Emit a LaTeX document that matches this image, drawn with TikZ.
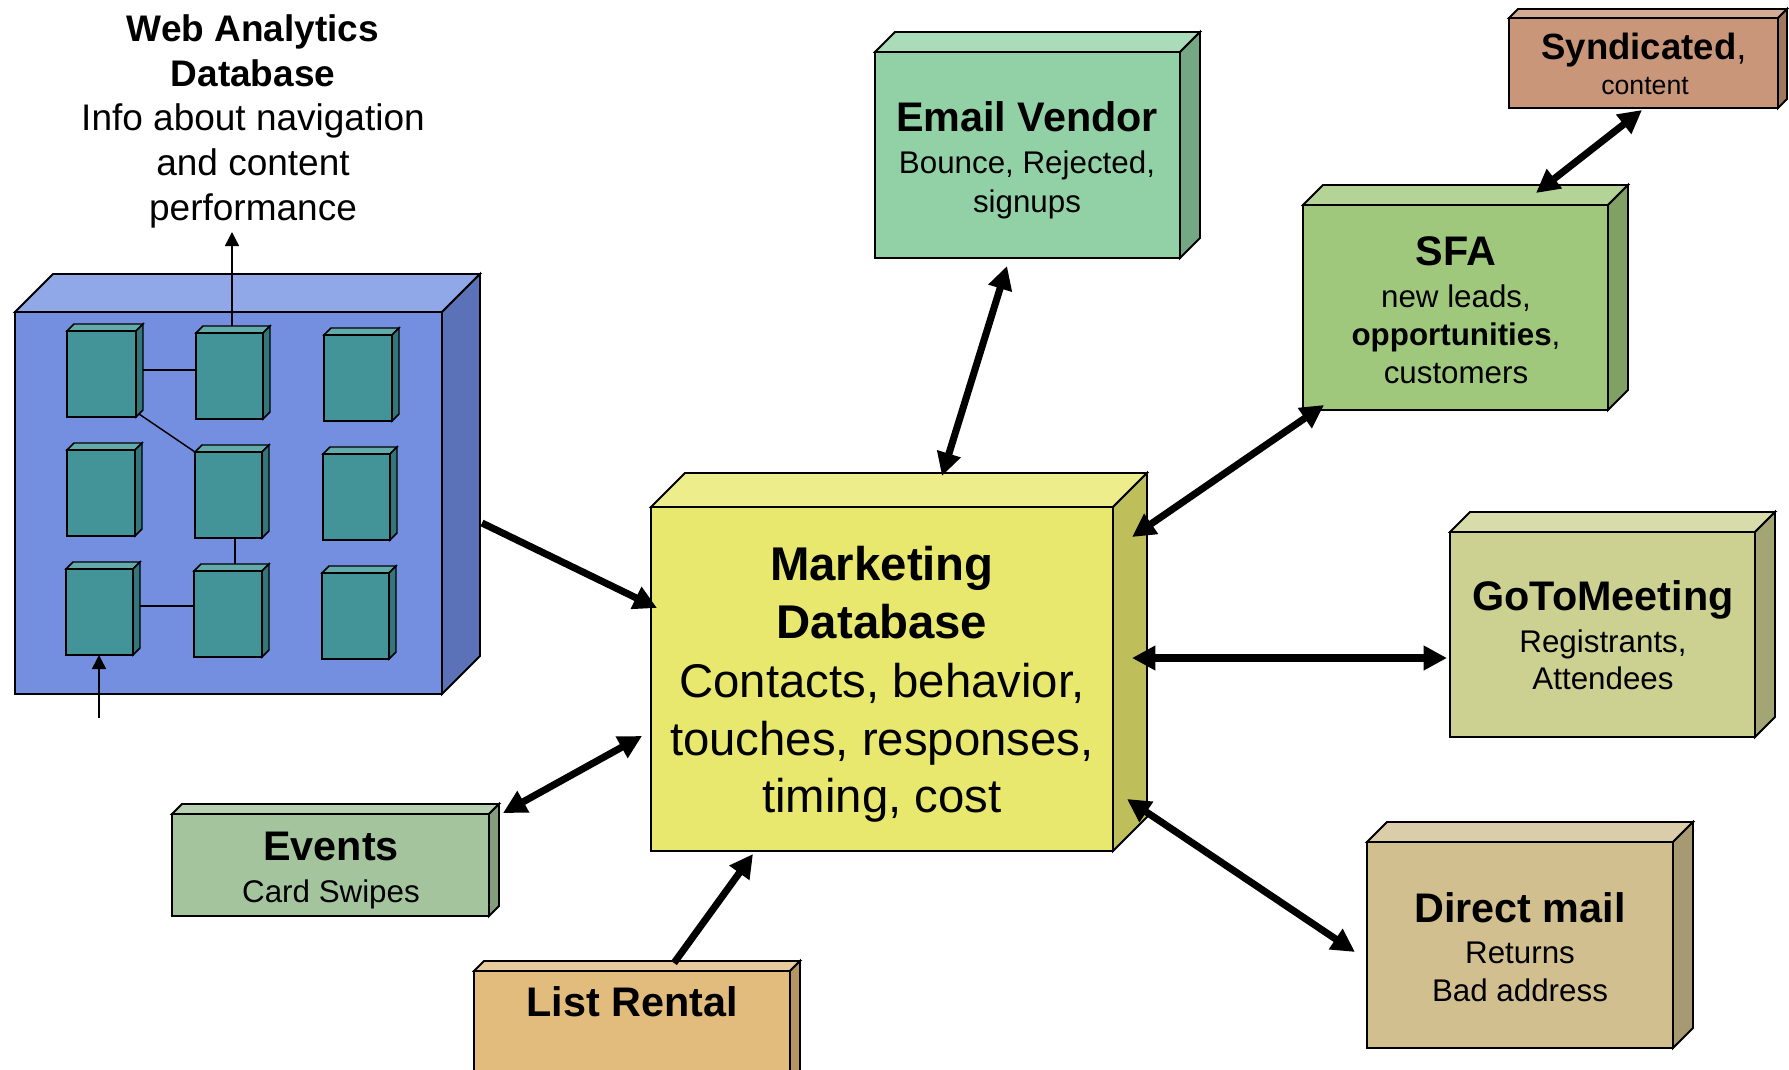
\documentclass[tikz,border=0pt]{standalone}
\usepackage{fontspec}
\setmainfont{Liberation Sans}
\usetikzlibrary{arrows.meta}

% face colours: F = front, T = top, S = side
\definecolor{webF}{RGB}{116,143,224}
\definecolor{webT}{RGB}{145,168,232}
\definecolor{webS}{RGB}{92,114,184}
\definecolor{tealF}{RGB}{66,148,152}
\definecolor{tealT}{RGB}{99,170,171}
\definecolor{tealS}{RGB}{52,118,121}
\definecolor{mktF}{RGB}{232,232,110}
\definecolor{mktT}{RGB}{237,237,140}
\definecolor{mktS}{RGB}{190,190,90}
\definecolor{mailF}{RGB}{145,209,165}
\definecolor{mailT}{RGB}{170,220,185}
\definecolor{mailS}{RGB}{116,167,132}
\definecolor{syndF}{RGB}{201,150,122}
\definecolor{syndT}{RGB}{212,172,150}
\definecolor{syndS}{RGB}{160,120,98}
\definecolor{sfaF}{RGB}{160,200,125}
\definecolor{sfaT}{RGB}{179,211,151}
\definecolor{sfaS}{RGB}{128,160,100}
\definecolor{gotoF}{RGB}{204,208,145}
\definecolor{gotoT}{RGB}{216,219,170}
\definecolor{gotoS}{RGB}{163,166,116}
\definecolor{dmF}{RGB}{209,191,143}
\definecolor{dmT}{RGB}{218,205,170}
\definecolor{dmS}{RGB}{167,153,114}
\definecolor{evF}{RGB}{164,196,158}
\definecolor{evT}{RGB}{182,208,177}
\definecolor{evS}{RGB}{131,157,126}
\definecolor{lrF}{RGB}{225,188,125}
\definecolor{lrT}{RGB}{231,203,156}
\definecolor{lrS}{RGB}{180,150,100}

\newcommand\fsz[2]{\fontsize{#1}{#2}\selectfont}

% #1 name, #2 x1, #3 y1, #4 x2, #5 y2 (front face), #6 depth, #7 colour prefix, #8 line style
\newcommand\cuboid[8]{%
  \filldraw[#8, fill=#7T] (#2,#3) -- (#2+#6,#3-#6) -- (#4+#6,#3-#6) -- (#4,#3) -- cycle;
  \filldraw[#8, fill=#7S] (#4,#3) -- (#4+#6,#3-#6) -- (#4+#6,#5-#6) -- (#4,#5) -- cycle;
  \pgfmathsetmacro\cbw{(#4-#2)*0.75}%
  \pgfmathsetmacro\cbh{(#5-#3)*0.75}%
  \node[#8, fill=#7F, minimum width=\cbw pt, minimum height=\cbh pt,
        anchor=north west, inner sep=0pt, outer sep=0pt] (#1) at (#2,#3) {};
}

\tikzset{
  boxline/.style={draw=black, line width=1.4pt, line join=miter},
  cubeline/.style={draw=black, line width=1.1pt, line join=miter},
  txt/.style={anchor=base, inner sep=0pt, outer sep=0pt, text=black},
  bigarrow/.style={draw=black, line width=5.3pt},
  twoway/.style={bigarrow, {Triangle[length=17.5pt,width=17.5pt]}-{Triangle[length=17.5pt,width=17.5pt]}},
  oneway/.style={bigarrow, -{Triangle[length=17.5pt,width=17.5pt]}},
  thinarrow/.style={draw=black, line width=1.1pt, -{Triangle[length=10.5pt,width=10.5pt]}},
  link/.style={draw=black, line width=1.1pt},
  titlef/.style={font=\fsz{31pt}{36pt}\bfseries},
  subf/.style={font=\fsz{23.5pt}{28pt}},
}

\begin{document}
\begin{tikzpicture}[x=0.75pt, y=-0.75pt]
\useasboundingbox (0,0) rectangle (1789,1070);

% ---- web analytics database with its server blocks ----
\cuboid{web}{15}{312}{442}{694}{38}{web}{boxline}
\cuboid{s1}{67}{331}{136}{417}{7}{teal}{cubeline}
\cuboid{s2}{196}{333}{263}{419}{7}{teal}{cubeline}
\cuboid{s3}{324}{335}{392}{421}{7}{teal}{cubeline}
\cuboid{s4}{67}{450}{135}{536}{7}{teal}{cubeline}
\cuboid{s5}{195}{452}{262}{538}{7}{teal}{cubeline}
\cuboid{s6}{323}{454}{390}{540}{7}{teal}{cubeline}
\cuboid{s7}{66}{569}{133}{655}{7}{teal}{cubeline}
\cuboid{s8}{194}{571}{262}{657}{7}{teal}{cubeline}
\cuboid{s9}{322}{573}{389}{659}{7}{teal}{cubeline}

\coordinate (s1e) at (143,370);
\coordinate (s1c) at (139,414);
\coordinate (s7e) at (140,606);
\coordinate (s5b) at (235,538);
\coordinate (s8t) at (235,564);
\coordinate (s2t) at (232,326);
\coordinate (webout) at (232,232);
\coordinate (webin) at (99,718);
\draw[link] (s1e) -- (s1e -| s2.west);
\draw[link] (s1c) -- (s5.north west);
\draw[link] (s5b) -- (s8t);
\draw[link] (s7e) -- (s7e -| s8.west);
\draw[thinarrow] (s2t) -- (webout);
\draw[thinarrow] (webin) -- (s7.south west -| webin);

% ---- other systems ----
\cuboid{mkt}{651}{507}{1113}{851}{34}{mkt}{boxline}
\cuboid{mail}{875}{52}{1180}{258}{20}{mail}{boxline}
\cuboid{synd}{1509}{18}{1778}{108}{9}{synd}{boxline}
\cuboid{sfa}{1303}{205}{1608}{410}{20}{sfa}{boxline}
\cuboid{goto}{1450}{532}{1755}{737}{20}{goto}{boxline}
\cuboid{dm}{1367}{842}{1673}{1048}{20}{dm}{boxline}
\cuboid{ev}{172}{814}{489}{916}{10}{ev}{boxline}
\cuboid{lr}{474}{971}{790}{1085}{10}{lr}{boxline}

% ---- connector end points ----
\coordinate (webE) at (482,523);
\coordinate (mktW) at (657,608);
\coordinate (mailS) at (1007,266);
\coordinate (mktN) at (942,476);
\coordinate (sfaSW) at (1324,405);
\coordinate (mktNE) at (1132,537);
\coordinate (syndS) at (1642,110);
\coordinate (sfaN) at (1536,193);
\coordinate (mktE) at (1132,658);
\coordinate (gotoW) at (1447,658);
\coordinate (mktSE) at (1127,799);
\coordinate (dmW) at (1355,952);
\coordinate (evE) at (503,813);
\coordinate (mktSW) at (642,736);
\coordinate (lrN) at (674,963);
\coordinate (mktS) at (753,854);

\draw[oneway] (webE) -- (mktW);
\draw[twoway] (mailS) -- (mktN);
\draw[twoway] (sfaSW) -- (mktNE);
\draw[twoway] (syndS) -- (sfaN);
\draw[twoway] (mktE) -- (gotoW);
\draw[twoway] (mktSE) -- (dmW);
\draw[twoway] (evE) -- (mktSW);
\draw[oneway] (lrN) -- (mktS);

% ---- labels ----
\node[txt, font=\fsz{27.75pt}{33pt}\bfseries] (wt1) at (253,42) {Web Analytics};
\node[txt, font=\fsz{27.75pt}{33pt}\bfseries] (wt2) at (253,87) {Database};
\node[txt, font=\fsz{27.75pt}{33pt}] (wt3) at (253,131) {Info about navigation};
\node[txt, font=\fsz{27.75pt}{33pt}] (wt4) at (253,176) {and content};
\node[txt, font=\fsz{27.75pt}{33pt}] (wt5) at (253,221) {performance};

\node[txt, font=\fsz{35.5pt}{43pt}\bfseries] (mt1) at (882,580) {Marketing};
\node[txt, font=\fsz{35.5pt}{43pt}\bfseries] (mt2) at (882,638) {Database};
\node[txt, font=\fsz{35.5pt}{43pt}] (mt3) at (882,697) {Contacts, behavior,};
\node[txt, font=\fsz{35.5pt}{43pt}] (mt4) at (882,755) {touches, responses,};
\node[txt, font=\fsz{35.5pt}{43pt}] (mt5) at (882,812) {timing, cost};

\node[txt, titlef] (et1) at (1027,132) {Email Vendor};
\node[txt, subf] (et2) at (1027,174) {Bounce, Rejected,};
\node[txt, subf] (et3) at (1027,213) {signups};

\node[txt, font=\fsz{27.4pt}{32pt}] (yt1) at (1644,60) {\textbf{Syndicated},};
\node[txt, font=\fsz{20pt}{24pt}] (yt2) at (1645,95) {content};

\node[txt, titlef] (ft1) at (1456,265) {SFA};
\node[txt, subf] (ft2) at (1456,307) {new leads,};
\node[txt, subf] (ft3) at (1456,345) {\textbf{opportunities},};
\node[txt, subf] (ft4) at (1456,383) {customers};

\node[txt, titlef] (gt1) at (1603,610) {GoToMeeting};
\node[txt, subf] (gt2) at (1603,652) {Registrants,};
\node[txt, subf] (gt3) at (1603,689) {Attendees};

\node[txt, titlef] (dt1) at (1520,922) {Direct mail};
\node[txt, subf] (dt2) at (1520,963) {Returns};
\node[txt, subf] (dt3) at (1520,1001) {Bad address};

\node[txt, titlef] (vt1) at (331,860) {Events};
\node[txt, subf] (vt2) at (331,902) {Card Swipes};

\node[txt, titlef] (lt1) at (632,1016) {List Rental};
\end{tikzpicture}
\end{document}
